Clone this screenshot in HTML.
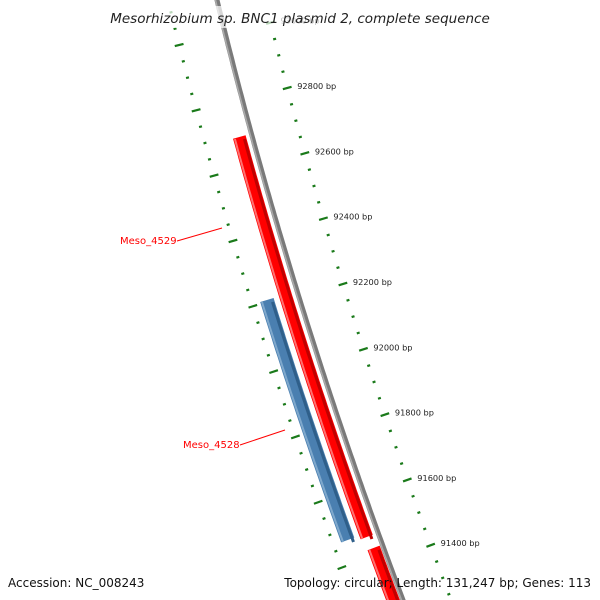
<!DOCTYPE html>
<html><head><meta charset="utf-8"><style>
html,body{margin:0;padding:0;background:#fff}
svg{display:block}
text{font-family:"DejaVu Sans","Liberation Sans",sans-serif}
</style></head><body>
<svg id="c" width="600" height="600" viewBox="0 0 600 600" xmlns="http://www.w3.org/2000/svg">
<g id="ticks"></g>
<g id="back"></g>
<g id="genes"></g>
<rect x="100" y="6" width="400" height="22" fill="#fff" opacity="0.7"/>
<text x="300" y="23" text-anchor="middle" font-size="13.5" font-style="italic" fill="#222">Mesorhizobium sp. BNC1 plasmid 2, complete sequence</text>
<text x="8" y="587" font-size="12" fill="#111">Accession: NC_008243</text>
<text x="591" y="587" text-anchor="end" font-size="12" fill="#111">Topology: circular; Length: 131,247 bp; Genes: 113</text>
</svg>
<script>
const tickBp = [];
for (let b = 93000; b >= 91200; b -= 50) tickBp.push(b);
const majorBp = [92800, 92600, 92400, 92200, 92000, 91800, 91600, 91400];
const geneNames = ["Meso_4529", "Meso_4528", "Meso_next"];
const geneStart = [92650, 92151, 91392];
const geneEnd = [91416, 91401, 91150];
const geneColor = ["#ff0000", "#4a7fb0", "#ff0000"];
const geneOffset = [-13, -33, -10];
const geneWidth = [13, 14, 13];
const labelPos = [[120, 243, 222, 228], [183, 447, 285, 430]];

const NS = "http://www.w3.org/2000/svg";
function bx(y){ return 217 + 0.2425*y + 0.0001125*y*y; }
function slope(y){ return 0.2425 + 0.000225*y; }
function bpY(bp){ return 88 + (92800 - bp)*0.3266; }
function mk(tag, attrs, parent){ const e=document.createElementNS(NS,tag); for(const k in attrs) e.setAttribute(k,attrs[k]); parent.appendChild(e); return e; }

const tg = document.getElementById('ticks');
tickBp.forEach(bp => {
  const major = bp % 200 === 0;
  [[0,48],[-43,-49]].forEach(([dy,off], ring) => {
    const y = bpY(bp) + dy;
    if (y < -5 || y > 605) return;
    const x = bx(y) + off;
    const s = slope(y), n = Math.hypot(1, s);
    const L = major ? 4.5 : 1.5;
    const ux = 1/n, uy = -s/n;
    const l = mk('line', {x1:x-ux*L, y1:y-uy*L, x2:x+ux*L, y2:y+uy*L, stroke:'#1a7a1a', 'stroke-width':2.2}, tg);
    
    
    if (major && ring === 0) {
      const t = mk('text', {x:x+10, y:y+1, 'font-size':8.2, fill:'#222'}, tg);
      t.textContent = bp + ' bp';
      
      
    }
  });
});

function pathAt(off, y0, y1){
  let d = '';
  for (let y = y0; y <= y1 + 0.01; y += 5) d += (d ? 'L' : 'M') + (bx(y)+off).toFixed(1) + ',' + y.toFixed(1);
  return d;
}
const bk = document.getElementById('back');
const b1 = mk('path', {d:pathAt(0,-5,605), stroke:'#7a7a7a', 'stroke-width':5, fill:'none'}, bk);


const b2 = mk('path', {d:pathAt(-1.5,-5,605), stroke:'#aaa', 'stroke-width':1.5, fill:'none'}, bk);



const gg = document.getElementById('genes');
geneNames.forEach((nm, i) => {
  const y0 = bpY(geneStart[i]), y1 = Math.min(bpY(geneEnd[i]), 610);
  const g = mk('g', {}, gg);
  
  
  const dark = i === 1 ? '#2f5f8a' : '#c00000';
  const light = i === 1 ? '#7fa8cc' : '#ff7070';
  mk('path', {d:pathAt(geneOffset[i], y0, y1), stroke:geneColor[i], 'stroke-width':geneWidth[i], fill:'none'}, g);
  mk('path', {d:pathAt(geneOffset[i]+geneWidth[i]/2-2, y0+2, y1), stroke:dark, 'stroke-width':3, fill:'none'}, g);
  mk('path', {d:pathAt(geneOffset[i]-geneWidth[i]/2+1.5, y0+2, y1), stroke:light, 'stroke-width':2, fill:'none'}, g);
});
labelPos.forEach((p, i) => {
  const l = mk('line', {x1:p[0]+57, y1:p[1]-2, x2:p[2], y2:p[3], stroke:'#ff0000', 'stroke-width':1}, gg);
  
  
  const t = mk('text', {x:p[0], y:p[1]+1, 'font-size':10, fill:'#ff0000'}, gg);
  t.textContent = geneNames[i];
  
  
});
</script>
</body></html>
